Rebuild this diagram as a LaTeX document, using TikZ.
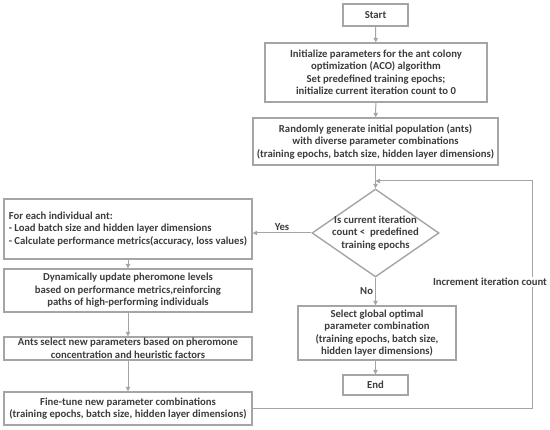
\documentclass[tikz,border=0pt]{standalone}
\usepackage{fontspec}
\setmainfont{Carlito}
\usetikzlibrary{shapes.geometric,arrows.meta}
\definecolor{boxgray}{RGB}{165,165,165}
\definecolor{txtgray}{RGB}{60,60,60}
\begin{document}
\begin{tikzpicture}[x=1pt,y=-1pt,
  every node/.style={font=\fontsize{10.7}{12.5}\selectfont\bfseries, text=txtgray},
  box/.style={draw=boxgray, line width=1.4pt, align=center, inner sep=0pt},
  lbox/.style={draw=boxgray, line width=1.4pt, align=left, inner sep=0pt},
  arr/.style={draw=boxgray, line width=1pt, -{Triangle[length=4.5pt,width=4.5pt]}},
  lbl/.style={inner sep=1pt},
]
\useasboundingbox (0,0) rectangle (550,430);
\node[box, minimum width=65pt, minimum height=22pt] (start) at (375.5,15) {Start};
\node[box, minimum width=222pt, minimum height=59pt] (init) at (376,72.5) {Initialize parameters for the ant colony\\optimization (ACO) algorithm\\Set predefined training epochs;\\initialize current iteration count to 0};
\node[box, minimum width=245pt, minimum height=47pt] (rand) at (375.5,141.5) {Randomly generate initial population (ants)\\with diverse parameter combinations\\(training epochs, batch size, hidden layer dimensions)};
\node[draw=boxgray, line width=1.4pt, diamond, aspect=1.44, minimum width=127pt, minimum height=88pt, inner sep=-8pt, align=center] (dia) at (375.5,233) {Is current iteration\\count <\ \ predefined\\training epochs};
\node[lbox, minimum width=248pt, minimum height=60pt] (fe) at (128,229) {For each individual ant:\\- Load batch size and hidden layer dimensions\\- Calculate performance metrics(accuracy, loss values)};
\node[box, minimum width=248pt, minimum height=43pt] (dyn) at (128,290.5) {Dynamically update pheromone levels\\based on performance metrics,reinforcing\\paths of high-performing individuals};
\node[box, minimum width=248pt, minimum height=23pt] (ants) at (128,348.5) {Ants select new parameters based on pheromone\\concentration and heuristic factors};
\node[box, minimum width=248pt, minimum height=33pt] (ft) at (128,408.5) {Fine-tune new parameter combinations\\(training epochs, batch size, hidden layer dimensions)};
\node[box, minimum width=158pt, minimum height=54pt] (sel) at (377,333) {Select global optimal\\parameter combination\\(training epochs, batch size,\\hidden layer dimensions)};
\node[box, minimum width=65pt, minimum height=20pt] (end) at (375.5,385) {End};
\coordinate (loopr) at (532,181);
\coordinate (loopin) at (375.5,181);
\draw[arr] (start) -- (init);
\draw[arr] (init) -- (rand);
\draw[arr] (rand) -- (dia);
\draw[arr] (dia.west) -- (dia.west -| fe.east) node[lbl, midway, above=1pt] (yes) {Yes};
\draw[arr] (fe) -- (dyn);
\draw[arr] (dyn) -- (ants);
\draw[arr] (ants) -- (ft);
\draw[arr] (dia.south) -- (dia.south |- sel.north) node[lbl, midway, left=1pt] (no) {No};
\draw[arr] (sel.south -| end) -- (end);
\draw[arr] (ft.east) -| (loopr) -- (loopin);
\node[lbl, fill=white] (inc) at (490,282) {Increment iteration count};
\end{tikzpicture}
\end{document}
